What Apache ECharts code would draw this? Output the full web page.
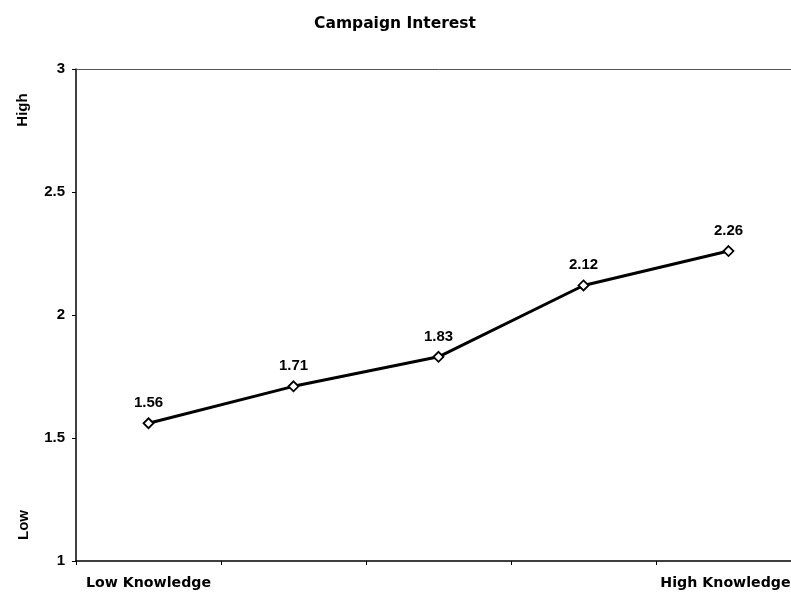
<!DOCTYPE html>
<html>
<head>
<meta charset="utf-8">
<script src="https://cdn.jsdelivr.net/npm/echarts@6/dist/echarts.min.js"></script>
<style>
  html, body { margin: 0; padding: 0; background: #fff; overflow: hidden; width: 791px; height: 595px; }
  /* the plot runs a little past the right edge of the page, so the stage is wider than the window */
  #chart { width: 810px; height: 595px; }
</style>
</head>
<body>
<div id="chart"></div>
<script>
// Campaign interest by level of political knowledge
const categories = ['Low Knowledge', '', '', '', 'High Knowledge'];
const interest = [1.56, 1.71, 1.83, 2.12, 2.26];
const yTicks = { min: 1, max: 3, interval: 0.5 };

const font = '"Liberation Sans", Arial, sans-serif';
const wideFont = '"DejaVu Sans", "Liberation Sans", sans-serif';
const chart = echarts.init(document.getElementById('chart'), null, { renderer: 'canvas' });

// the last category label is nudged left so it stays on the page
const categoryData = categories.map((name, i) =>
  i === categories.length - 1
    ? { value: name, textStyle: { padding: [0, 6, 0, 0] } }
    : name
);

chart.setOption({
  backgroundColor: '#ffffff',
  animation: false,
  title: {
    text: 'Campaign Interest',
    left: 390,
    textAlign: 'center',
    top: 11,
    textStyle: { fontFamily: wideFont, fontWeight: 'bold', fontSize: 15.5, color: '#000' }
  },
  grid: { left: 76, right: 9, top: 69, bottom: 34, containLabel: false },
  xAxis: [
    {
      type: 'category',
      data: categoryData,
      boundaryGap: true,
      axisLine: { lineStyle: { color: '#000', width: 1.5 } },
      axisTick: { show: true, length: 4, lineStyle: { color: '#000' } },
      axisLabel: {
        interval: 0,
        margin: 15,
        fontFamily: wideFont, fontWeight: 'bold', fontSize: 14.2, color: '#000'
      },
      splitLine: { show: false }
    },
    {
      type: 'category',
      data: categories,
      position: 'top',
      axisLine: { lineStyle: { color: '#555', width: 1 } },
      axisTick: { show: false },
      axisLabel: { show: false }
    }
  ],
  yAxis: {
    type: 'value',
    min: yTicks.min,
    max: yTicks.max,
    interval: yTicks.interval,
    axisLine: { show: true, lineStyle: { color: '#000', width: 1.5 } },
    axisTick: { show: true, length: 4, lineStyle: { color: '#000' } },
    axisLabel: {
      margin: 11,
      fontFamily: font, fontWeight: 'bold', fontSize: 15, color: '#000',
      formatter: v => String(v)
    },
    splitLine: { show: false }
  },
  graphic: [
    {
      type: 'text', x: 23, y: 110, rotation: Math.PI / 2,
      style: { text: 'High', font: 'bold 15px ' + font, fill: '#000', align: 'center', verticalAlign: 'middle' }
    },
    {
      type: 'text', x: 24, y: 525, rotation: Math.PI / 2,
      style: { text: 'Low', font: 'bold 15px ' + font, fill: '#000', align: 'center', verticalAlign: 'middle' }
    }
  ],
  series: [{
    type: 'line',
    data: interest,
    symbol: 'diamond',
    symbolSize: 10,
    itemStyle: { color: '#fff', borderColor: '#000', borderWidth: 1.8 },
    lineStyle: { color: '#000', width: 3 },
    label: {
      show: true,
      position: 'top',
      distance: 7,
      fontFamily: font, fontWeight: 'bold', fontSize: 15, color: '#000',
      formatter: p => p.value.toFixed(2)
    },
    z: 3
  }]
});
</script>
</body>
</html>
